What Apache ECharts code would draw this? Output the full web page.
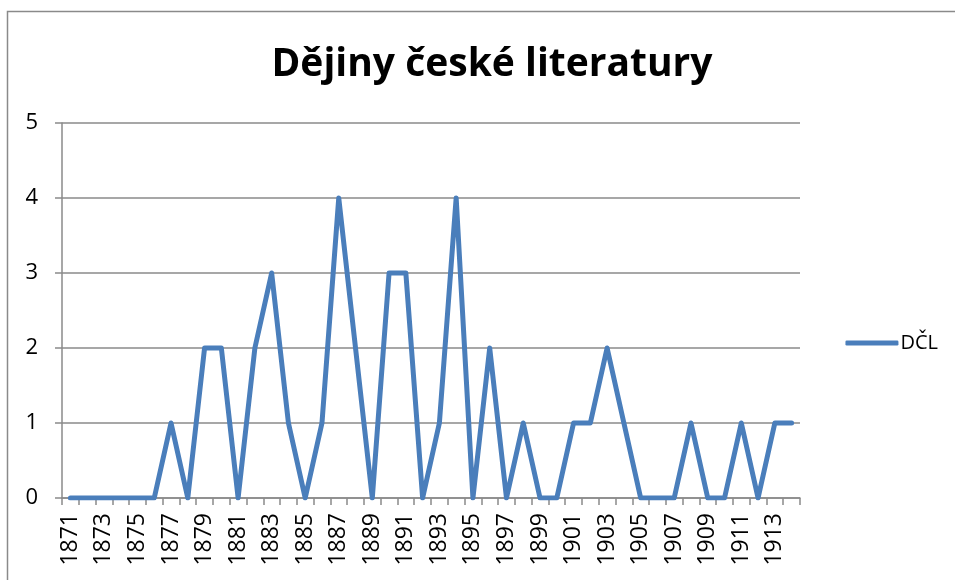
<!DOCTYPE html>
<html>
<head>
<meta charset="utf-8">
<script src="https://cdn.jsdelivr.net/npm/echarts@6/dist/echarts.min.js"></script>
<style>
  html, body { margin: 0; padding: 0; background: #fff; }
  #main { width: 955px; height: 580px; }
</style>
</head>
<body>
<div id="main"></div>
<script>
// roky
var years = [];
for (var y = 1871; y <= 1914; y++) years.push(String(y));

// DČL - počty
var dcl = [0, 0, 0, 0, 0, 0, 1, 0, 2, 2,
           0, 2, 3, 1, 0, 1, 4, 2, 0, 3,
           3, 0, 1, 4, 0, 2, 0, 1, 0, 0,
           1, 1, 2, 1, 0, 0, 0, 1, 0, 0,
           1, 0, 1, 1];

var yTicks = [0, 1, 2, 3, 4, 5];

var chart = echarts.init(document.getElementById('main'), null, { renderer: 'canvas' });
var font = 'Open Sans, Noto Sans, sans-serif';

var option = {
  backgroundColor: '#ffffff',
  animation: false,
  title: {
    text: 'Dějiny české literatury',
    left: 487,
    top: 40,
    textAlign: 'center',
    textStyle: { fontFamily: font, fontWeight: 'bold', fontSize: 39, color: '#000' }
  },
  graphic: [{
    type: 'rect',
    shape: { x: 7.5, y: 11.5, width: 960, height: 600 },
    style: { fill: 'none', stroke: '#8a8a8a', lineWidth: 1.5 },
    silent: true
  }],
  legend: {
    data: ['DČL'],
    right: 12,
    top: 328,
    icon: 'roundRect',
    itemWidth: 53,
    itemHeight: 5,
    itemGap: 5,
    textStyle: { fontFamily: font, fontSize: 20, color: '#000', padding: [0, 0, 0, -3] }
  },
  grid: { left: 62, right: 155, top: 123, bottom: 82, containLabel: false },
  xAxis: {
    type: 'category',
    data: years,
    boundaryGap: true,
    axisLine: { lineStyle: { color: '#8a8a8a', width: 1.5 } },
    axisTick: { show: true, length: 7, interval: 0, lineStyle: { color: '#8a8a8a', width: 1.5 } },
    axisLabel: { rotate: 90, interval: 1, margin: 15, fontFamily: font, fontSize: 23, color: '#000' },
    splitLine: { show: false }
  },
  yAxis: {
    type: 'value',
    min: yTicks[0],
    max: yTicks[yTicks.length - 1],
    interval: 1,
    axisLine: { show: true, lineStyle: { color: '#8a8a8a', width: 1.5 } },
    axisTick: { show: true, length: 7, lineStyle: { color: '#8a8a8a', width: 1.5 } },
    axisLabel: { margin: 24, fontFamily: font, fontSize: 22, color: '#000' },
    splitLine: { lineStyle: { color: '#8a8a8a', width: 1.5 } }
  },
  series: [{
    name: 'DČL',
    type: 'line',
    data: dcl,
    symbol: 'none',
    color: '#4A7EBB',
    lineStyle: { width: 5, color: '#4A7EBB', join: 'round', cap: 'round' }
  }]
};

chart.setOption(option);
</script>
</body>
</html>
